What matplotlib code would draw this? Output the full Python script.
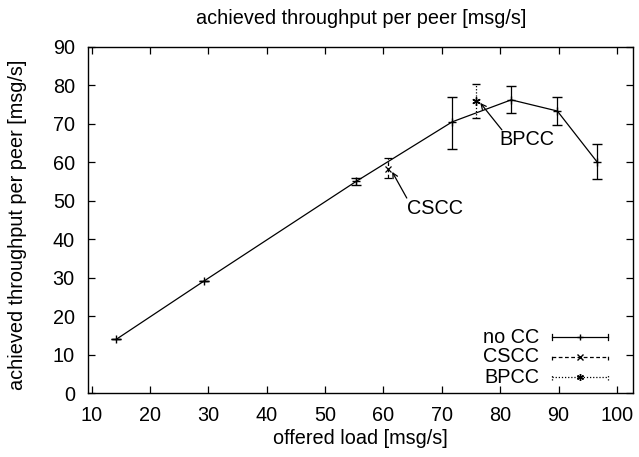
import matplotlib
matplotlib.use("Agg")
import matplotlib.pyplot as plt
from matplotlib.lines import Line2D

plt.rcParams['font.family'] = ['Liberation Sans', 'DejaVu Sans']

# no CC series
nocc_x = [14.2, 29.3, 55.3, 71.8, 81.9, 89.8, 96.6]
nocc_y = [14.0, 29.2, 55.0, 70.5, 76.2, 73.3, 60.1]
nocc_lo = [14.0, 29.2, 54.2, 63.5, 72.9, 69.7, 55.6]
nocc_hi = [14.0, 29.2, 55.8, 77.0, 79.8, 76.9, 64.7]

# CSCC point
cscc_x = [60.7]
cscc_y = [58.3]
cscc_lo = [55.8]
cscc_hi = [61.0]

# BPCC point
bpcc_x = [75.9]
bpcc_y = [75.9]
bpcc_lo = [71.5]
bpcc_hi = [80.3]

xticks = [10, 20, 30, 40, 50, 60, 70, 80, 90, 100]
yticks = [0, 10, 20, 30, 40, 50, 60, 70, 80, 90]

FS = 14.3

fig = plt.figure(figsize=(6.39, 4.57), dpi=100)
ax = fig.add_axes([0.1377, 0.1394, 0.8523, 0.7584])

def err(y, lo, hi):
    return [[a - b for a, b in zip(y, lo)], [c - a for a, c in zip(y, hi)]]

ast = (6, 2, 0)

ax.errorbar(nocc_x, nocc_y, yerr=err(nocc_y, nocc_lo, nocc_hi), color='black',
            lw=0.9, marker='+', ms=6, mew=1.0, capsize=3.5, elinewidth=0.9,
            capthick=0.9)
e2 = ax.errorbar(cscc_x, cscc_y, yerr=err(cscc_y, cscc_lo, cscc_hi), color='black',
                 lw=0.9, marker='x', ms=5, mew=0.9, capsize=3, elinewidth=0.9,
                 capthick=0.9, linestyle='none')
e2[2][0].set_linestyle((0, (3, 2)))
e3 = ax.errorbar(bpcc_x, bpcc_y, yerr=err(bpcc_y, bpcc_lo, bpcc_hi), color='black',
                 lw=0.9, marker=ast, ms=6, mew=1.0, capsize=3, elinewidth=0.9,
                 capthick=0.9, linestyle='none')
e3[2][0].set_linestyle((0, (1, 1.5)))

ax.set_xlim(9.37, 102.7)
ax.set_ylim(0, 90)
ax.set_xticks(xticks)
ax.set_yticks(yticks)
ax.tick_params(direction='in', top=True, right=True, length=5, width=0.9,
               labelsize=FS)
ax.tick_params(axis='y', pad=9.5)
ax.tick_params(axis='x', pad=9.5)
for s in ax.spines.values():
    s.set_linewidth(1.0)

fig.text(0.566, 0.96, 'achieved throughput per peer [msg/s]', fontsize=FS,
         ha='center', va='center')
ax.set_xlabel('offered load [msg/s]', fontsize=FS)
ax.set_ylabel('achieved throughput per peer [msg/s]', fontsize=FS)
ax.xaxis.set_label_coords(0.501, -0.103)
ax.yaxis.set_label_coords(-0.112, 0.485)

arrow = dict(arrowstyle='->', lw=0.9, color='black', shrinkA=0, shrinkB=0,
             mutation_scale=9)
ax.annotate('', xy=(61.5, 57.5), xytext=(64.0, 50.7), arrowprops=arrow)
ax.text(64.0, 48.1, 'CSCC', fontsize=FS, ha='left', va='center')
ax.annotate('', xy=(76.6, 75.4), xytext=(80.3, 68.4), arrowprops=arrow)
ax.text(79.9, 65.8, 'BPCC', fontsize=FS, ha='left', va='center')

# legend (drawn in axes coordinates)
labels = ['no CC', 'CSCC', 'BPCC']
markers = ['+', 'x', ast]
styles = ['-', (0, (3, 2)), (0, (1, 1.5))]
ys = [0.162, 0.105, 0.047]
T = ax.transAxes
for lab, mk, st, yy in zip(labels, markers, styles, ys):
    ax.text(0.828, yy, lab, transform=T, ha='right', va='center', fontsize=FS)
    ax.add_line(Line2D([0.852, 0.955], [yy, yy], transform=T, color='black',
                       lw=0.9, linestyle=st))
    for xx in (0.852, 0.955):
        ax.add_line(Line2D([xx, xx], [yy - 0.009, yy + 0.009], transform=T,
                           color='black', lw=0.9, linestyle=st))
    ax.add_line(Line2D([0.903], [yy], transform=T, color='black', marker=mk,
                       ms=5, mew=1.0, linestyle='none'))

fig.savefig('out.png', dpi=100)
